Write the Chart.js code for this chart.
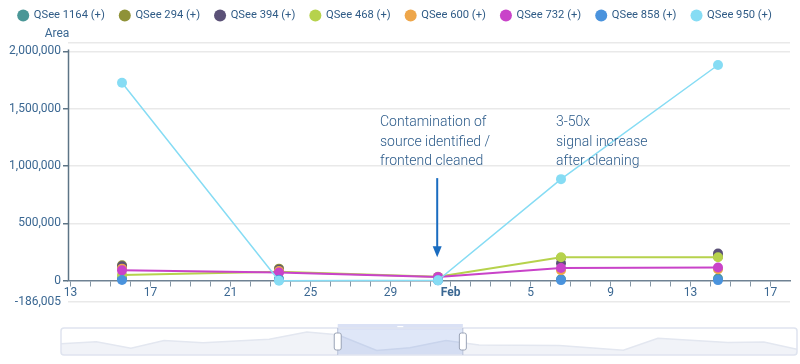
<!DOCTYPE html>
<html><head><meta charset="utf-8">
<script src="https://cdn.jsdelivr.net/npm/chart.js@4.4.1/dist/chart.umd.min.js"></script>
<style>
html,body{margin:0;padding:0;background:#fff;overflow:hidden;width:800px;height:364px;}
#main{position:absolute;left:0;top:-5px;width:800px;height:369px;}
#navWrap{position:absolute;left:0;top:316px;width:800px;height:48px;}
</style></head><body>
<div id="main"><canvas id="c"></canvas></div>
<div id="navWrap"><canvas id="n"></canvas></div>
<script>
// ---- data ----
const sampleDays = [15.57, 23.42, 31.37, 37.52, 45.37]; // day number (Jan=1..31, Feb 1 = 32)
const seriesNames = ['QSee 1164 (+)','QSee 294 (+)','QSee 394 (+)','QSee 468 (+)','QSee 600 (+)','QSee 732 (+)','QSee 858 (+)','QSee 950 (+)'];
const q1164 = [20000, 15000, 8000, 12000, 18000];
const q294  = [135000, 105000, 28000, 198000, 212000];
const q394  = [125000, 95000, 25000, 152000, 237000];
const q468  = [50000, 78000, 35000, 205000, 205000];
const q600  = [105000, 85000, 22000, 92000, 100000];
const q732  = [90000, 72000, 33000, 110000, 115000];
const q858  = [6000, 8000, 3000, 5000, 5000];
const q950  = [1727000, 0, 3000, 886000, 1882000];
const seriesValues = [q1164, q294, q394, q468, q600, q732, q858, q950];
const seriesHasLine = [false, false, false, true, false, true, false, true];
const xTickDays = [13, 17, 21, 25, 29, 32, 36, 40, 44, 48];
const xTickLabels = ['13', '17', '21', '25', '29', 'Feb', '5', '9', '13', '17'];
const yTickValues = [-186005, 0, 500000, 1000000, 1500000, 2000000];
const yAxisTitle = 'Area';
const annotations = [
  { x: 28.47, y: 1378000, lines: ['Contamination of', 'source identified /', 'frontend cleaned'] },
  { x: 37.27, y: 1378000, lines: ['3-50x', 'signal increase', 'after cleaning'] }
];
const arrowAt = { x: 31.33, yFrom: 895000, yTo: 205000 };
// navigator overview series
const navX = [0, 4.8, 9.5, 14, 19.3, 28.3, 33.4, 37.6, 42.9, 47.4, 52.3, 56.8, 67.7, 76.4, 81.1, 90.6, 95.5, 100];
const navY = [0.42, 0.49, 0.25, 0.54, 0.45, 0.58, 0.85, 0.75, 0.17, 0.27, 0.54, 0.37, 0.35, 0.18, 0.62, 0.46, 0.48, 0.21];
const navSelection = [37.6, 54.6];

// ---- styles ----
const colors = ['#4a9797','#8f9238','#5b5177','#b6d24c','#eea64a','#c943c9','#4a93dd','#86dcf4'];
const textColor = '#3a6792';
const FONT = 'Roboto, "Liberation Sans", sans-serif';
const X_MIN = 12.87, X_MAX = 48.97, Y_MIN = -186005, Y_MAX = 2074000;

const fmt = v => (v < 0 ? '-' : '') + Math.abs(Math.round(v)).toString().replace(/\B(?=(\d{3})+(?!\d))/g, ',');

const datasets = seriesNames.map((name, i) => ({
  label: name,
  data: sampleDays.map((d, k) => ({ x: d, y: seriesValues[i][k] })),
  showLine: seriesHasLine[i],
  borderColor: colors[i],
  backgroundColor: colors[i],
  borderWidth: i === 7 ? 1.5 : 2,
  pointRadius: 5,
  pointHoverRadius: 5,
  pointBackgroundColor: colors[i],
  pointBorderColor: colors[i],
  pointBorderWidth: 0,
  order: 7 - i,
  clip: false
}));

const legendPad = {
  id: 'legendPad',
  beforeInit(chart) {
    const orig = chart.legend.fit;
    chart.legend.fit = function () { orig.call(this); this.height = 48; };
  }
};

const decor = {
  id: 'decor',
  beforeDatasetsDraw(chart) {
    const { ctx, chartArea, scales } = chart;
    const y = scales.y;
    ctx.save();
    ctx.strokeStyle = '#5d7486';
    ctx.lineWidth = 1.5;
    ctx.beginPath();
    ctx.moveTo(chartArea.left + 0.5, y.getPixelForValue(2000000) - 2);
    ctx.lineTo(chartArea.left + 0.5, y.getPixelForValue(0));
    ctx.stroke();
    ctx.restore();
  },
  afterDraw(chart) {
    const { ctx, chartArea, scales } = chart;
    const xs = scales.x, ys = scales.y;
    ctx.save();
    ctx.fillStyle = textColor;
    ctx.font = '12px ' + FONT;
    ctx.textAlign = 'center';
    ctx.textBaseline = 'middle';
    ctx.fillText(yAxisTitle, chartArea.left - 11, chartArea.top - 9);
    ctx.font = '300 14px ' + FONT;
    ctx.textAlign = 'left';
    ctx.fillStyle = '#2c5b8a';
    annotations.forEach(a => {
      const px = xs.getPixelForValue(a.x), py = ys.getPixelForValue(a.y);
      a.lines.forEach((t, k) => ctx.fillText(t, px, py + k * 19.5));
    });
    const ax = xs.getPixelForValue(arrowAt.x);
    const y1 = ys.getPixelForValue(arrowAt.yFrom), y2 = ys.getPixelForValue(arrowAt.yTo);
    ctx.strokeStyle = '#1a6cc0';
    ctx.fillStyle = '#1a6cc0';
    ctx.lineWidth = 2;
    ctx.beginPath();
    ctx.moveTo(ax, y1);
    ctx.lineTo(ax, y2 - 8);
    ctx.stroke();
    ctx.beginPath();
    ctx.moveTo(ax - 4.5, y2 - 11);
    ctx.lineTo(ax + 4.5, y2 - 11);
    ctx.lineTo(ax, y2);
    ctx.closePath();
    ctx.fill();
    ctx.restore();
  }
};

new Chart(document.getElementById('c'), {
  type: 'line',
  data: { datasets },
  plugins: [legendPad, decor],
  options: {
    responsive: true,
    maintainAspectRatio: false,
    animation: false,
    events: [],
    layout: { padding: { left: 0, right: 10, top: 0, bottom: 62 } },
    plugins: {
      tooltip: { enabled: false },
      legend: {
        position: 'top',
        align: 'center',
        labels: {
          usePointStyle: true,
          pointStyle: 'circle',
          boxWidth: 10,
          boxHeight: 8.5,
          padding: 15,
          color: '#2f5b86',
          font: { family: FONT, size: 11.2 },
          sort: (a, b) => a.datasetIndex - b.datasetIndex
        }
      }
    },
    scales: {
      x: {
        type: 'linear',
        min: X_MIN,
        max: X_MAX,
        position: { y: 0 },
        afterBuildTicks: s => { const t = []; for (let d = 13; d <= 48; d++) t.push({ value: d }); s.ticks = t; },
        ticks: {
          autoSkip: false, maxRotation: 0, padding: 0, color: textColor,
          font: c => ({ family: FONT, size: 12, weight: (c.tick && c.tick.value === 32) ? 'bold' : 'normal' }),
          callback: v => { const k = xTickDays.indexOf(v); return k >= 0 ? xTickLabels[k] : ''; }
        },
        grid: { drawOnChartArea: false, tickLength: 5, tickColor: '#8496a5', tickWidth: 1 },
        border: { display: true, color: '#6f8293', width: 1.5 }
      },
      y: {
        min: Y_MIN,
        max: Y_MAX,
        afterBuildTicks: s => { s.ticks = yTickValues.concat([Y_MAX]).map(v => ({ value: v })); },
        afterFit: s => { s.width = 68; },
        ticks: {
          color: textColor, padding: 2,
          font: { family: FONT, size: 12 },
          callback: v => v === Y_MAX ? '' : fmt(v)
        },
        grid: {
          color: c => (c.tick && c.tick.value === 0) ? 'rgba(0,0,0,0)' : '#e9e9e9',
          tickColor: c => (c.tick && (c.tick.value === Y_MAX || c.tick.value < 0)) ? 'rgba(0,0,0,0)' : '#5d7486',
          tickLength: 5, lineWidth: 1.5
        },
        border: { display: false }
      }
    }
  }
});

// ---- navigator ----
const navDecor = {
  id: 'navDecor',
  afterDraw(chart) {
    const { ctx, chartArea, scales } = chart;
    const L = chartArea.left, R = chartArea.right, T = chartArea.top, B = chartArea.bottom;
    const sx1 = scales.x.getPixelForValue(navSelection[0]);
    const sx2 = scales.x.getPixelForValue(navSelection[1]);
    ctx.save();
    ctx.fillStyle = 'rgba(110,145,225,0.22)';
    ctx.fillRect(sx1, T, sx2 - sx1, B - T);
    ctx.fillStyle = '#dae1f5';
    ctx.fillRect(sx1, T - 4, sx2 - sx1, 6);
    ctx.fillStyle = '#ffffff';
    ctx.fillRect((sx1 + sx2) / 2 - 3, T - 2, 6, 1.5);
    ctx.strokeStyle = '#dfe4ef';
    ctx.lineWidth = 1.5;
    ctx.beginPath();
    ctx.roundRect(L, T, R - L, B - T, 3);
    ctx.stroke();
    ctx.strokeStyle = '#b9c2d8';
    ctx.lineWidth = 1;
    ctx.beginPath();
    ctx.moveTo(sx1, T); ctx.lineTo(sx1, B);
    ctx.moveTo(sx2, T); ctx.lineTo(sx2, B);
    ctx.stroke();
    [sx1, sx2].forEach(hx => {
      ctx.fillStyle = '#ffffff';
      ctx.strokeStyle = '#9aa3b6';
      ctx.beginPath();
      ctx.roundRect(hx - 3.5, (T + B) / 2 - 8.5, 7, 17, 2);
      ctx.fill();
      ctx.stroke();
    });
    ctx.restore();
  }
};

new Chart(document.getElementById('n'), {
  type: 'line',
  data: { datasets: [{
    data: navX.map((x, i) => ({ x, y: navY[i] })),
    borderColor: '#e3e7f0', borderWidth: 1.5, backgroundColor: '#f1f3f8',
    fill: 'origin', pointRadius: 0, tension: 0
  }] },
  plugins: [navDecor],
  options: {
    responsive: true, maintainAspectRatio: false, animation: false, events: [],
    layout: { padding: { left: 61, right: 3, top: 12, bottom: 9 } },
    plugins: { legend: { display: false }, tooltip: { enabled: false } },
    scales: {
      x: { type: 'linear', min: 0, max: 100, display: false },
      y: { min: 0, max: 1, display: false }
    }
  }
});
</script>
</body></html>
